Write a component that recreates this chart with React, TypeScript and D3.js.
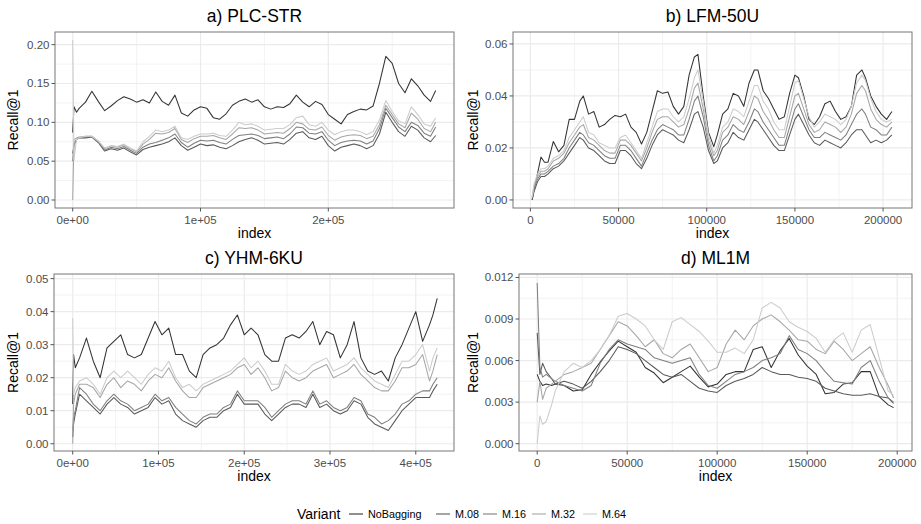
import React from "react";
import * as d3 from "d3";

// series order follows the legend, darkest grey first
const variants = ["NoBagging", "M.08", "M.16", "M.32", "M.64"];
const variantGreys = ["#333333", "#595959", "#7f7f7f", "#a6a6a6", "#cccccc"];

// a) PLC-STR  (index in thousands)
const plcIndex = [0, 1, 3, 5, 10, 15, 20, 25, 30, 35,
  40, 45, 50, 55, 60, 65, 70, 75, 80, 85,
  90, 95, 100, 105, 110, 115, 120, 125, 130, 135,
  140, 145, 150, 155, 160, 165, 170, 175, 180, 185,
  190, 195, 200, 205, 210, 215, 220, 225, 230, 235,
  240, 245, 250, 255, 260, 265, 270, 275, 280, 284];
const plcNoBagging = [0.087, 0.12, 0.113, 0.118, 0.126, 0.14, 0.127, 0.115, 0.121, 0.128,
  0.133, 0.13, 0.126, 0.129, 0.125, 0.139, 0.127, 0.122, 0.135, 0.112,
  0.108, 0.116, 0.12, 0.118, 0.106, 0.104, 0.111, 0.122, 0.127, 0.13,
  0.126, 0.129, 0.12, 0.117, 0.12, 0.119, 0.124, 0.135, 0.126, 0.12,
  0.127, 0.123, 0.11, 0.104, 0.098, 0.11, 0.114, 0.117, 0.116, 0.121,
  0.15, 0.185, 0.176, 0.15, 0.138, 0.156, 0.147, 0.135, 0.127, 0.141];
const plcM08 = [0.06, 0.07, 0.078, 0.08, 0.08, 0.081, 0.074, 0.063, 0.066, 0.064,
  0.067, 0.062, 0.058, 0.065, 0.068, 0.07, 0.072, 0.075, 0.08, 0.07,
  0.064, 0.068, 0.072, 0.07, 0.071, 0.068, 0.066, 0.07, 0.075, 0.078,
  0.08, 0.077, 0.072, 0.073, 0.074, 0.072, 0.078, 0.086, 0.088, 0.08,
  0.078, 0.082, 0.07, 0.063, 0.068, 0.07, 0.072, 0.07, 0.066, 0.07,
  0.085, 0.113, 0.1, 0.088, 0.082, 0.095, 0.09, 0.08, 0.075, 0.083];
const plcM16 = [0.05, 0.072, 0.078, 0.08, 0.081, 0.082, 0.075, 0.064, 0.068, 0.066,
  0.069, 0.064, 0.06, 0.068, 0.072, 0.074, 0.077, 0.08, 0.085, 0.074,
  0.068, 0.073, 0.077, 0.076, 0.077, 0.074, 0.072, 0.078, 0.083, 0.084,
  0.085, 0.083, 0.079, 0.08, 0.081, 0.079, 0.085, 0.094, 0.093, 0.086,
  0.085, 0.088, 0.077, 0.07, 0.074, 0.076, 0.077, 0.076, 0.072, 0.076,
  0.092, 0.118, 0.106, 0.094, 0.088, 0.1, 0.096, 0.086, 0.082, 0.094];
const plcM32 = [0.0, 0.078, 0.08, 0.081, 0.082, 0.082, 0.076, 0.066, 0.07, 0.068,
  0.071, 0.066, 0.062, 0.072, 0.078, 0.086, 0.085, 0.087, 0.092, 0.078,
  0.074, 0.079, 0.082, 0.082, 0.083, 0.08, 0.078, 0.085, 0.093, 0.092,
  0.093, 0.09, 0.085, 0.086, 0.087, 0.086, 0.092, 0.1, 0.098, 0.091,
  0.09, 0.094, 0.083, 0.077, 0.081, 0.083, 0.084, 0.083, 0.079, 0.082,
  0.097, 0.122, 0.11, 0.098, 0.093, 0.112, 0.104, 0.092, 0.088, 0.1];
const plcM64 = [0.206, 0.052, 0.078, 0.08, 0.082, 0.082, 0.076, 0.067, 0.07, 0.069,
  0.072, 0.067, 0.063, 0.075, 0.082, 0.09, 0.088, 0.09, 0.095, 0.08,
  0.078, 0.082, 0.085, 0.085, 0.086, 0.083, 0.082, 0.09, 0.1, 0.097,
  0.098, 0.095, 0.09, 0.091, 0.092, 0.092, 0.097, 0.106, 0.108, 0.097,
  0.095, 0.1, 0.09, 0.084, 0.088, 0.09, 0.09, 0.088, 0.084, 0.088,
  0.103, 0.128, 0.114, 0.102, 0.098, 0.12, 0.11, 0.098, 0.095, 0.106];

// b) LFM-50U
const lfmIndex = [1, 2, 4, 6, 8, 10, 13, 16, 19, 22,
  25, 28, 30, 33, 36, 39, 42, 45, 48, 51,
  54, 57, 60, 63, 66, 69, 72, 75, 78, 81,
  84, 87, 90, 93, 95, 98, 101, 104, 106, 109,
  112, 115, 118, 121, 124, 127, 129, 132, 135, 138,
  141, 144, 147, 150, 152, 155, 158, 161, 164, 167,
  170, 173, 176, 179, 182, 185, 188, 190, 193, 196,
  199, 202, 205];
const lfmNoBagging = [0.0, 0.004, 0.01, 0.0165, 0.0145, 0.0145, 0.0225, 0.0185, 0.021, 0.031,
  0.031, 0.038, 0.04, 0.033, 0.034, 0.028, 0.029, 0.031, 0.0325, 0.032,
  0.033, 0.028, 0.026, 0.0215, 0.026, 0.034, 0.042, 0.041, 0.0415, 0.036,
  0.033, 0.036, 0.048, 0.055, 0.056, 0.04, 0.026, 0.0205, 0.025, 0.033,
  0.035, 0.041, 0.04, 0.036, 0.045, 0.05, 0.05, 0.042, 0.039, 0.035,
  0.031, 0.032, 0.041, 0.048, 0.047, 0.04, 0.031, 0.029, 0.032, 0.037,
  0.038, 0.034, 0.031, 0.032, 0.036, 0.048, 0.05, 0.047, 0.04, 0.036,
  0.033, 0.031, 0.034];
const lfmM08 = [0.0, 0.003, 0.007, 0.009, 0.009, 0.01, 0.012, 0.013, 0.015, 0.018,
  0.021, 0.024, 0.023, 0.02, 0.019, 0.017, 0.015, 0.014, 0.014, 0.019,
  0.019, 0.017, 0.014, 0.012, 0.016, 0.021, 0.025, 0.027, 0.026, 0.025,
  0.023, 0.022, 0.027, 0.033, 0.034, 0.028, 0.019, 0.014, 0.015, 0.02,
  0.022, 0.026, 0.024, 0.023, 0.027, 0.031, 0.03, 0.027, 0.024, 0.021,
  0.019, 0.019, 0.025, 0.031, 0.033, 0.029, 0.025, 0.022, 0.021, 0.023,
  0.022, 0.021, 0.02, 0.022, 0.025, 0.027, 0.027, 0.025, 0.022, 0.023,
  0.022, 0.023, 0.025];
const lfmM16 = [0.001, 0.004, 0.008, 0.01, 0.01, 0.011, 0.013, 0.014, 0.016, 0.02,
  0.023, 0.026, 0.025, 0.022, 0.021, 0.019, 0.017, 0.016, 0.016, 0.021,
  0.021, 0.019, 0.016, 0.013, 0.018, 0.023, 0.027, 0.029, 0.028, 0.027,
  0.025, 0.025, 0.031, 0.038, 0.04, 0.032, 0.021, 0.015, 0.017, 0.023,
  0.025, 0.029, 0.027, 0.026, 0.03, 0.035, 0.034, 0.03, 0.027, 0.024,
  0.021, 0.021, 0.028, 0.035, 0.037, 0.032, 0.027, 0.024, 0.024, 0.026,
  0.025, 0.024, 0.023, 0.025, 0.029, 0.033, 0.035, 0.033, 0.028, 0.027,
  0.025, 0.025, 0.028];
const lfmM32 = [0.001, 0.005, 0.009, 0.011, 0.011, 0.012, 0.015, 0.016, 0.018, 0.022,
  0.025, 0.028, 0.029, 0.024, 0.023, 0.021, 0.019, 0.018, 0.018, 0.023,
  0.023, 0.021, 0.018, 0.015, 0.02, 0.026, 0.031, 0.032, 0.032, 0.03,
  0.028, 0.029, 0.035, 0.043, 0.045, 0.035, 0.023, 0.017, 0.019, 0.026,
  0.028, 0.032, 0.031, 0.029, 0.034, 0.04, 0.039, 0.034, 0.031, 0.027,
  0.024, 0.024, 0.032, 0.04, 0.041, 0.035, 0.029, 0.026, 0.027, 0.03,
  0.029, 0.028, 0.026, 0.028, 0.033, 0.041, 0.044, 0.042, 0.035, 0.031,
  0.029, 0.028, 0.03];
const lfmM64 = [0.001, 0.006, 0.01, 0.012, 0.012, 0.013, 0.016, 0.017, 0.019, 0.024,
  0.027, 0.03, 0.032, 0.026, 0.025, 0.022, 0.021, 0.02, 0.02, 0.024,
  0.025, 0.022, 0.019, 0.016, 0.022, 0.028, 0.034, 0.035, 0.035, 0.032,
  0.03, 0.032, 0.039, 0.047, 0.05, 0.038, 0.025, 0.018, 0.021, 0.028,
  0.03, 0.035, 0.034, 0.032, 0.038, 0.044, 0.044, 0.038, 0.035, 0.03,
  0.027, 0.027, 0.036, 0.045, 0.046, 0.039, 0.032, 0.028, 0.03, 0.033,
  0.032, 0.031, 0.029, 0.031, 0.036, 0.045, 0.048, 0.046, 0.039, 0.034,
  0.031, 0.03, 0.031];

// c) YHM-6KU
const yhmIndex = [0, 1, 3, 8, 16, 24, 32, 40, 48, 56,
  64, 72, 80, 88, 96, 104, 112, 120, 128, 136,
  144, 152, 160, 168, 176, 184, 192, 200, 208, 216,
  224, 232, 240, 248, 256, 264, 272, 280, 288, 296,
  304, 312, 320, 328, 336, 344, 352, 360, 368, 376,
  384, 392, 400, 408, 416, 420, 425];
const yhmNoBagging = [0.012, 0.027, 0.023, 0.026, 0.032, 0.025, 0.02, 0.029, 0.031, 0.033,
  0.027, 0.026, 0.027, 0.032, 0.037, 0.033, 0.035, 0.027, 0.027, 0.022,
  0.02, 0.027, 0.029, 0.03, 0.032, 0.036, 0.039, 0.033, 0.035, 0.033,
  0.027, 0.025, 0.025, 0.032, 0.033, 0.032, 0.034, 0.037, 0.03, 0.034,
  0.033, 0.026, 0.03, 0.037, 0.026, 0.022, 0.021, 0.022, 0.019, 0.026,
  0.03, 0.035, 0.04, 0.031, 0.036, 0.039, 0.044];
const yhmM08 = [0.002, 0.006, 0.009, 0.015, 0.013, 0.011, 0.009, 0.012, 0.014, 0.012,
  0.011, 0.009, 0.01, 0.011, 0.014, 0.012, 0.013, 0.009, 0.007, 0.006,
  0.005, 0.007, 0.008, 0.008, 0.01, 0.011, 0.015, 0.012, 0.012, 0.012,
  0.009, 0.007, 0.009, 0.011, 0.012, 0.012, 0.011, 0.015, 0.011, 0.012,
  0.01, 0.009, 0.01, 0.013, 0.012, 0.008, 0.006, 0.005, 0.004, 0.007,
  0.01, 0.012, 0.014, 0.014, 0.014, 0.016, 0.018];
const yhmM16 = [0.004, 0.008, 0.01, 0.017, 0.015, 0.012, 0.01, 0.013, 0.015, 0.013,
  0.012, 0.01, 0.011, 0.012, 0.015, 0.013, 0.014, 0.011, 0.009, 0.007,
  0.006, 0.008, 0.009, 0.009, 0.011, 0.012, 0.016, 0.013, 0.013, 0.013,
  0.011, 0.008, 0.01, 0.012, 0.013, 0.013, 0.012, 0.016, 0.012, 0.013,
  0.011, 0.01, 0.011, 0.014, 0.013, 0.009, 0.008, 0.006, 0.007, 0.009,
  0.012, 0.013, 0.015, 0.016, 0.016, 0.018, 0.02];
const yhmM32 = [0.0, 0.012, 0.015, 0.018, 0.018, 0.017, 0.014, 0.018, 0.02, 0.017,
  0.019, 0.018, 0.016, 0.019, 0.021, 0.02, 0.023, 0.019, 0.016, 0.014,
  0.014, 0.017, 0.018, 0.019, 0.02, 0.021, 0.023, 0.024, 0.021, 0.023,
  0.02, 0.016, 0.017, 0.022, 0.02, 0.019, 0.02, 0.022, 0.023, 0.024,
  0.02, 0.021, 0.022, 0.024, 0.021, 0.019, 0.017, 0.016, 0.016, 0.019,
  0.023, 0.023, 0.024, 0.027, 0.019, 0.022, 0.027];
const yhmM64 = [0.038, 0.015, 0.017, 0.019, 0.02, 0.018, 0.015, 0.02, 0.022, 0.02,
  0.022, 0.02, 0.018, 0.021, 0.023, 0.022, 0.025, 0.02, 0.017, 0.018,
  0.016, 0.018, 0.019, 0.02, 0.021, 0.022, 0.024, 0.026, 0.023, 0.025,
  0.022, 0.018, 0.018, 0.024, 0.022, 0.021, 0.022, 0.024, 0.025, 0.026,
  0.022, 0.023, 0.024, 0.026, 0.023, 0.021, 0.019, 0.018, 0.017, 0.021,
  0.025, 0.025, 0.027, 0.03, 0.022, 0.026, 0.029];

// d) ML1M
const mlIndex = [0, 1.5, 3, 5, 8, 10, 15, 20, 25, 30,
  35, 40, 45, 50, 55, 60, 65, 70, 75, 80,
  85, 90, 95, 100, 105, 110, 115, 120, 125, 130,
  135, 140, 145, 150, 155, 160, 165, 170, 175, 180,
  185, 190, 195, 198];
const mlNoBagging = [0.005, 0.0045, 0.0042, 0.0043, 0.0042, 0.0043, 0.0042, 0.0038, 0.0039, 0.005,
  0.0059, 0.0067, 0.0074, 0.007, 0.0066, 0.0055, 0.0051, 0.0044, 0.0048, 0.0052,
  0.0056, 0.0048, 0.0041, 0.0043, 0.005, 0.0052, 0.0052, 0.0068, 0.007, 0.0055,
  0.0067, 0.0076, 0.0064, 0.0056, 0.005, 0.0036, 0.0037, 0.0043, 0.0044, 0.0052,
  0.0052, 0.0034, 0.0028, 0.0026];
const mlM08 = [0.008, 0.005, 0.0058, 0.0052, 0.0047, 0.0043, 0.0045, 0.0043, 0.004, 0.0045,
  0.0052, 0.006, 0.007, 0.0068, 0.0065, 0.006, 0.0055, 0.005, 0.0048, 0.005,
  0.0045, 0.004, 0.0038, 0.0037, 0.0042, 0.0045, 0.0047, 0.005, 0.0055, 0.0052,
  0.005, 0.005, 0.0048, 0.0047, 0.0045, 0.004, 0.0038, 0.0036, 0.0035, 0.0035,
  0.0036, 0.0034, 0.0033, 0.0029];
const mlM16 = [0.0116, 0.0055, 0.0048, 0.005, 0.0047, 0.0045, 0.0042, 0.004, 0.0038, 0.0042,
  0.0058, 0.0068, 0.0075, 0.0072, 0.007, 0.0068, 0.0062, 0.006, 0.0058, 0.006,
  0.0062, 0.005, 0.0042, 0.004, 0.0045, 0.005, 0.0052, 0.0055, 0.006, 0.0062,
  0.0065, 0.0078, 0.0068, 0.0065, 0.006, 0.0052, 0.0045, 0.0044, 0.0043, 0.0055,
  0.006, 0.0045, 0.0033, 0.003];
const mlM32 = [0.003, 0.0045, 0.0032, 0.004, 0.0043, 0.0045, 0.005, 0.0052, 0.0055, 0.0058,
  0.0068, 0.0078, 0.0088, 0.0085, 0.0078, 0.007, 0.0075, 0.0065, 0.0062, 0.0068,
  0.0072, 0.0062, 0.0052, 0.0055, 0.0072, 0.0082, 0.0075, 0.0085, 0.009, 0.0093,
  0.0088, 0.0082, 0.0075, 0.0074, 0.0068, 0.0065, 0.0074, 0.0068, 0.006, 0.0065,
  0.007, 0.0055, 0.0042, 0.0033];
const mlM64 = [0.0, 0.002, 0.0014, 0.0016, 0.0028, 0.0038, 0.0052, 0.0058, 0.0055, 0.006,
  0.0068, 0.0078, 0.0092, 0.0094, 0.009, 0.0085, 0.0075, 0.0068, 0.0088, 0.0091,
  0.0086, 0.0081, 0.0074, 0.0066, 0.0066, 0.0069, 0.0065, 0.0075, 0.0098, 0.0102,
  0.0098, 0.0088, 0.0084, 0.0081, 0.0076, 0.0066, 0.0075, 0.008, 0.0066, 0.0082,
  0.0086, 0.0062, 0.0038, 0.0035];

const FONT = "'Liberation Sans', Arial, Helvetica, sans-serif";
const sci = (v: number) => (v === 0 ? "0e+00" : `${v / 1e5}e+05`);
const plain = d3.format("d");

const panels = [
  {
    title: "a) PLC-STR", box: { x: 55, y: 32, w: 399, h: 176 }, labelX: 18,
    index: plcIndex, series: [plcNoBagging, plcM08, plcM16, plcM32, plcM64],
    xDomain: [-13860, 298350], yDomain: [-0.0103, 0.2163],
    xTicks: [0, 1e5, 2e5], yTicks: [0, 0.05, 0.1, 0.15, 0.2],
    xFmt: sci, yFmt: d3.format(".2f"),
  },
  {
    title: "b) LFM-50U", box: { x: 513, y: 32, w: 399, h: 176 }, labelX: 478,
    index: lfmIndex, series: [lfmNoBagging, lfmM08, lfmM16, lfmM32, lfmM64],
    xDomain: [-9870, 216400], yDomain: [-0.0031, 0.0646],
    xTicks: [0, 50000, 100000, 150000, 200000], yTicks: [0, 0.02, 0.04, 0.06],
    xFmt: plain, yFmt: d3.format(".2f"),
  },
  {
    title: "c) YHM-6KU", box: { x: 54, y: 274, w: 400, h: 177 }, labelX: 18,
    index: yhmIndex, series: [yhmNoBagging, yhmM08, yhmM16, yhmM32, yhmM64],
    xDomain: [-21820, 444570], yDomain: [-0.0022, 0.0514],
    xTicks: [0, 1e5, 2e5, 3e5, 4e5], yTicks: [0, 0.01, 0.02, 0.03, 0.04, 0.05],
    xFmt: sci, yFmt: d3.format(".2f"),
  },
  {
    title: "d) ML1M", box: { x: 519, y: 274, w: 393, h: 177 }, labelX: 478,
    index: mlIndex, series: [mlNoBagging, mlM08, mlM16, mlM32, mlM64],
    xDomain: [-10110, 208220], yDomain: [-0.00053, 0.01225],
    xTicks: [0, 50000, 100000, 150000, 200000], yTicks: [0, 0.003, 0.006, 0.009, 0.012],
    xFmt: plain, yFmt: d3.format(".3f"),
  },
];

// minor gridlines sit halfway between the major ones
const minors = (ticks: number[], domain: number[]) => {
  const step = ticks[1] - ticks[0];
  const out: number[] = [];
  for (let i = -1; i < ticks.length; i++) {
    const v = ticks[0] + step * (i + 0.5);
    if (v > domain[0] && v < domain[1]) out.push(v);
  }
  return out;
};

const Panel = ({ p, id }: { p: any; id: number }) => {
  const { x: bx, y: by, w, h } = p.box;
  const xScale = d3.scaleLinear().domain(p.xDomain).range([bx, bx + w]);
  const yScale = d3.scaleLinear().domain(p.yDomain).range([by + h, by]);
  const line = d3
    .line<number>()
    .x((_, i) => xScale(p.index[i] * 1000))
    .y(v => yScale(v));
  const bottom = by + h;

  return (
    <g>
      <rect x={bx} y={by} width={w} height={h} fill="#ffffff" />
      <clipPath id={`clip${id}`}>
        <rect x={bx} y={by} width={w} height={h} />
      </clipPath>
      {minors(p.yTicks, p.yDomain).map(v => (
        <line key={`my${v}`} x1={bx} x2={bx + w} y1={yScale(v)} y2={yScale(v)} stroke="#ebebeb" strokeWidth={0.6} />
      ))}
      {minors(p.xTicks, p.xDomain).map(v => (
        <line key={`mx${v}`} y1={by} y2={bottom} x1={xScale(v)} x2={xScale(v)} stroke="#ebebeb" strokeWidth={0.6} />
      ))}
      {p.yTicks.map((v: number) => (
        <line key={`gy${v}`} x1={bx} x2={bx + w} y1={yScale(v)} y2={yScale(v)} stroke="#ebebeb" strokeWidth={1.2} />
      ))}
      {p.xTicks.map((v: number) => (
        <line key={`gx${v}`} y1={by} y2={bottom} x1={xScale(v)} x2={xScale(v)} stroke="#ebebeb" strokeWidth={1.2} />
      ))}
      <g clipPath={`url(#clip${id})`}>
        {p.series.map((s: number[], i: number) => (
          <path key={variants[i]} d={line(s) || ""} fill="none" stroke={variantGreys[i]} strokeWidth={1.05} strokeLinejoin="round" />
        ))}
      </g>
      <rect x={bx} y={by} width={w} height={h} fill="none" stroke="#777777" strokeWidth={1} />

      {p.yTicks.map((v: number) => (
        <g key={`ty${v}`}>
          <line x1={bx - 3.5} x2={bx} y1={yScale(v)} y2={yScale(v)} stroke="#555555" />
          <text x={bx - 5.5} y={yScale(v) + 4} textAnchor="end" fontSize={11.5} fill="#4d4d4d">{p.yFmt(v)}</text>
        </g>
      ))}
      {p.xTicks.map((v: number) => (
        <g key={`tx${v}`}>
          <line x1={xScale(v)} x2={xScale(v)} y1={bottom} y2={bottom + 3.5} stroke="#555555" />
          <text x={xScale(v)} y={bottom + 16} textAnchor="middle" fontSize={11.5} fill="#4d4d4d">{p.xFmt(v)}</text>
        </g>
      ))}

      <text x={bx + w / 2} y={by - 10} textAnchor="middle" fontSize={17.5} fill="#000">{p.title}</text>
      <text x={bx + w / 2} y={bottom + 30} textAnchor="middle" fontSize={14} fill="#000">index</text>
      <text transform={`translate(${p.labelX},${by + h / 2}) rotate(-90)`} textAnchor="middle" fontSize={14} fill="#000">Recall@1</text>
    </g>
  );
};

// legend item positions along the bottom row
const legendKeyX = [349, 436, 483, 532, 583];

const App = () => (
  <div style={{ position: "absolute", left: 0, top: 0 }}>
    <svg width={921} height={524} style={{ display: "block", fontFamily: FONT }}>
      <rect width={921} height={524} fill="#ffffff" />
      {panels.map((p, i) => (
        <Panel key={p.title} p={p} id={i} />
      ))}
      <g>
        <text x={297} y={519} fontSize={14} fill="#000">Variant</text>
        {variants.map((v, i) => (
          <g key={v}>
            <line x1={legendKeyX[i]} x2={legendKeyX[i] + 14} y1={514} y2={514} stroke={variantGreys[i]} strokeWidth={1.1} />
            <text x={legendKeyX[i] + 19} y={518} fontSize={10.8} fill="#000">{v}</text>
          </g>
        ))}
      </g>
    </svg>
  </div>
);

export default App;
